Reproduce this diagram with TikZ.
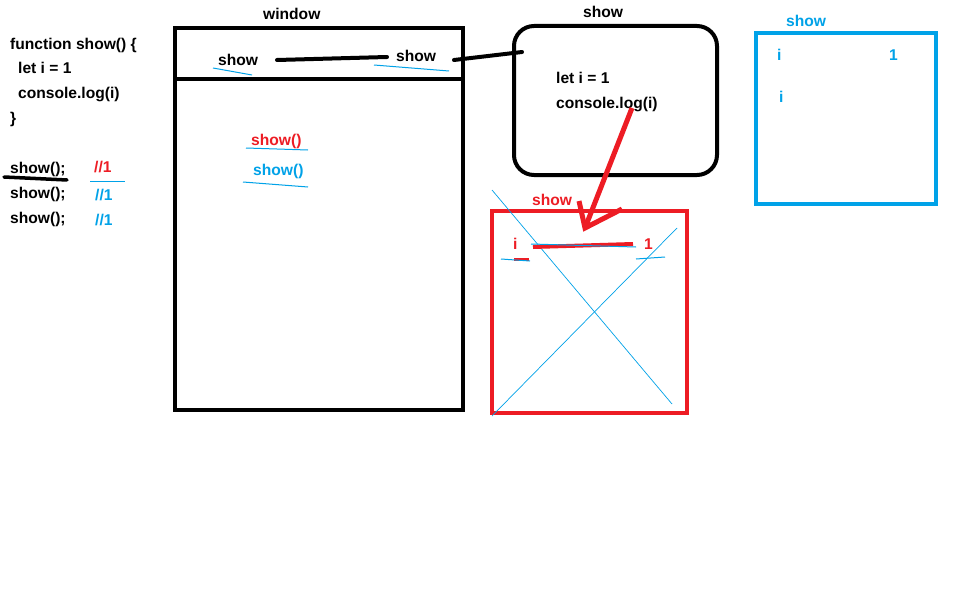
\documentclass[tikz,border=0pt]{standalone}
\usepackage{fontspec}
\setmainfont{Liberation Sans}
\definecolor{pred}{HTML}{ED1C24}
\definecolor{pblue}{HTML}{00A2E8}
\begin{document}
\begin{tikzpicture}[x=1pt,y=-1pt,
  txt/.style={anchor=base west,inner sep=0pt,font=\fontsize{15.6}{15.6}\selectfont\bfseries},
  rtxt/.style={txt,text=pred},
  btxt/.style={txt,text=pblue},
  thin blue/.style={draw=pblue,line width=1pt},
  blk/.style={draw=black,line width=4pt,line cap=round},
  frame/.style={draw,line width=4pt}]
\useasboundingbox[fill=white] (0,0) rectangle (958,594);
% code
\node[txt] (c1) at (10,49) {function show() \{};
\node[txt] (c2) at (18,74) {let i = 1};
\node[txt] (c3) at (18,99) {console.log(i)};
\node[txt] (c4) at (10,123) {\}};
\node[txt] (s1) at (10,173) {show();};
\node[txt] (s2) at (10,198) {show();};
\node[txt] (s3) at (10,223) {show();};
\node[rtxt] (r1) at (94,172) {//1};
\node[btxt] (r2) at (95,200) {//1};
\node[btxt] (r3) at (95,225) {//1};
\coordinate (u1a) at (4,177); \coordinate (u1b) at (67,180);
\draw[blk,line width=3.5pt] (u1a) -- (u1b);
\coordinate (u2a) at (90,181); \coordinate (u2b) at (125,181);
\draw[thin blue] (u2a) -- (u2b);
% window
\node[txt] (wl) at (263,20) {window};
\draw[frame] (175,28) rectangle (463,410);
\draw[frame] (175,79) -- (463,79);
\node[txt] (ws1) at (218,66) {show};
\node[txt] (ws2) at (396,62) {show};
\coordinate (wa) at (277,60); \coordinate (wb) at (387,57);
\draw[blk] (wa) -- (wb);
\draw[thin blue] (213,68) -- (252,75);
\draw[thin blue] (374,65) -- (449,71);
\node[rtxt] (wr) at (251,145) {show()};
\node[btxt] (wbl) at (253,175) {show()};
\draw[thin blue] (246,148) -- (308,150);
\draw[thin blue] (243,182) -- (308,187);
% show box
\node[txt] (sl) at (583,18) {show};
\draw[frame,rounded corners=20pt] (514,26) rectangle (717,175);
\node[txt] (sc1) at (556,83) {let i = 1};
\node[txt] (sc2) at (556,108) {console.log(i)};
\coordinate (ca) at (454,60); \coordinate (cb) at (522,52);
\draw[blk] (ca) -- (cb);
% red arrow
\coordinate (ra) at (632,108); \coordinate (rt) at (585,228);
\draw[draw=pred,line width=5pt] (ra) -- (rt);
\draw[draw=pred,line width=5pt,line join=miter] (579,201) -- (585,228) -- (622,209);
% red box
\node[rtxt] (rl) at (532,205) {show};
\draw[frame,draw=pred] (492,211) rectangle (687,413);
\draw[draw=pblue,line width=0.7pt] (492,190) -- (672,404);
\draw[draw=pblue,line width=0.7pt] (677,228) -- (492,416);
\node[rtxt] (ri) at (513,249) {i};
\node[rtxt] (r1v) at (644,249) {1};
\draw[draw=pred,line width=4pt] (533,247) -- (633,244);
\draw[thin blue] (531,244) -- (636,247);
\draw[draw=pred,line width=3pt] (514,259) -- (529,259);
\draw[thin blue] (501,259) -- (530,261);
\draw[thin blue] (636,259) -- (665,257);
% blue box
\node[btxt] (bl) at (786,27) {show};
\draw[frame,draw=pblue,line width=3.5pt] (756,33) rectangle (936,204);
\node[btxt] (bi1) at (777,61) {i};
\node[btxt] (b1) at (889,61) {1};
\node[btxt] (bi2) at (779,102) {i};
\end{tikzpicture}
\end{document}
